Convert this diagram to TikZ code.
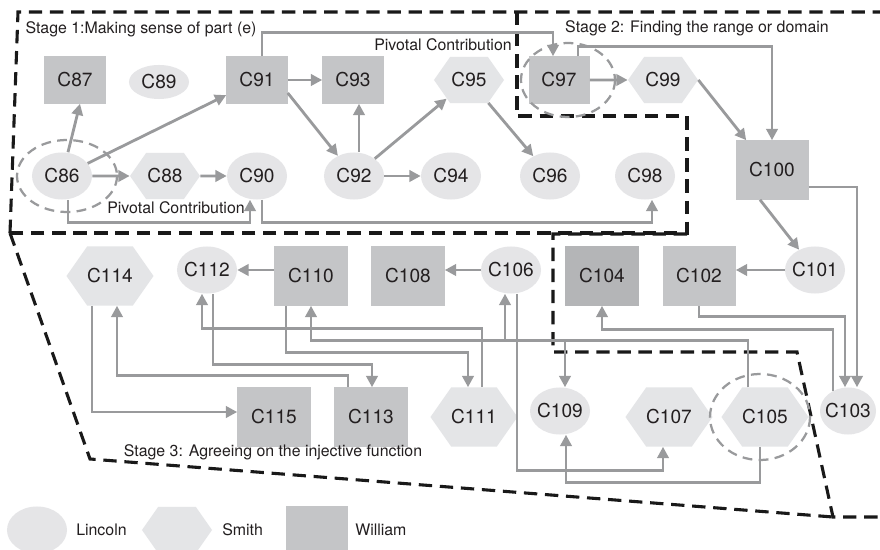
\documentclass[tikz,border=0pt]{standalone}
\usepackage{fontspec}
\setmainfont{TeX Gyre Heros}
\usetikzlibrary{arrows.meta,calc,shapes.geometric,shapes.symbols}

\definecolor{linkgray}{RGB}{153,154,156}
\definecolor{lincolnfill}{RGB}{229,229,231}
\definecolor{smithfill}{RGB}{228,229,231}
\definecolor{williamfill}{RGB}{196,197,199}
\definecolor{darkfill}{RGB}{180,181,183}
\definecolor{inkgray}{RGB}{35,31,32}

\begin{document}
\begin{tikzpicture}[x=0.025cm, y=-0.025cm,
  lincoln/.style={ellipse, fill=lincolnfill, text=inkgray, minimum width=1.5cm, minimum height=1.175cm, inner xsep=-4pt, inner ysep=0pt, font=\fontsize{13.6}{16}\selectfont},
  smith/.style={signal, signal to=east and west, signal pointer angle=110, fill=smithfill, text=inkgray, minimum width=1.75cm, minimum height=1.15cm, inner sep=0pt, font=\fontsize{13.6}{16}\selectfont},
  william/.style={rectangle, fill=williamfill, text=inkgray, minimum width=1.525cm, minimum height=1.175cm, inner sep=0pt, font=\fontsize{13.6}{16}\selectfont},
  bighex/.style={smith, minimum width=2.1cm, minimum height=1.475cm},
  bigbox/.style={william, minimum width=1.825cm, minimum height=1.475cm},
  note/.style={text=inkgray, inner sep=0pt, font=\fontsize{11.3}{13}\selectfont},
  link/.style={draw=linkgray, line width=2pt, -{Triangle[length=8pt, width=8pt]}},
  stageline/.style={draw=black!90, line width=2.2pt, dash pattern=on 9.5pt off 5.5pt},
  focusring/.style={draw=linkgray, line width=1.6pt, dash pattern=on 7pt off 4.5pt}]
\useasboundingbox (0,0) rectangle (880,550);
\fill[white] (0,0) rectangle (880,550);
\clip (0,0) rectangle (880,550);

\draw[stageline] (10,233) -- (18,12) -- (900,12);
\draw[stageline] (517,12) -- (517,116) -- (687,116) -- (687,233) -- (10,233);
\draw[stageline] (687,234) -- (553,234) -- (553,352) -- (797,352) -- (833,517) -- (900,517);
\draw[stageline] (10,233) -- (90,459) -- (833,517);

\node[william] (c87) at (75,80) {C87};
\node[lincoln, minimum height=0.85cm] (c89) at (159,82) {C89};
\node[william] (c91) at (257,80) {C91};
\node[william] (c93) at (353,80) {C93};
\node[smith] (c95) at (469,80) {C95};
\node[william] (c97) at (559,80) {C97};
\node[smith] (c99) at (663,80) {C99};
\node[lincoln] (c86) at (62,176) {C86};
\node[smith] (c88) at (165,176) {C88};
\node[lincoln] (c90) at (257,176) {C90};
\node[lincoln] (c92) at (354,176) {C92};
\node[lincoln] (c94) at (451,176) {C94};
\node[lincoln] (c96) at (550,176) {C96};
\node[lincoln] (c98) at (645,176) {C98};
\node[bigbox] (c100) at (772,170) {C100};

\node[bighex] (c114) at (110,276) {C114};
\node[lincoln] (c112) at (207,270) {C112};
\node[bigbox] (c110) at (311,276) {C110};
\node[bigbox] (c108) at (408,276) {C108};
\node[lincoln] (c106) at (511,270) {C106};
\node[bigbox, fill=darkfill] (c104) at (602,276) {C104};
\node[bigbox] (c102) at (699,276) {C102};
\node[lincoln] (c101) at (815,270) {C101};
\node[bigbox] (c115) at (274,417) {C115};
\node[bigbox] (c113) at (371,417) {C113};
\node[bighex] (c111) at (474,417) {C111};
\node[lincoln] (c109) at (560,411) {C109};
\node[bighex] (c107) at (669,417) {C107};
\node[bighex] (c105) at (765,417) {C105};
\node[lincoln, minimum width=1.4cm] (c103) at (848,411) {C103};

\draw[link] ($(c86.north)+(6,0)$) -- ($(c87.south)+(5,0)$);
\draw[link] (c86) -- (c91);
\draw[link] (c86) -- (c88);
\draw[link] (c88) -- (c90);
\draw[link] ($(c86.south)+(6,0)$) -- ++(0,23) -| ($(c90.south)+(-7,0)$);
\draw[link] ($(c90.south)+(5,0)$) -- ++(0,23) -| ($(c98.south)+(7,0)$);
\draw[link] ($(c91.north)+(5,0)$) -- ++(0,-24) -| ($(c97.north)+(-6,0)$);
\draw[link] (c91) -- (c93);
\draw[link] ($(c91.east)+(0,13)$) -- (c92);
\draw[link] ($(c92.north)+(5,0)$) -- ($(c93.south)+(6,0)$);
\draw[link] (c92) -- (c94);
\draw[link] (c92) -- (c95);
\draw[link] (c95) -- (c96);
\draw[link] (c97) -- (c99);
\draw[link] ($(c97.north)+(19,0)$) -- ++(0,-10) -| (c100.north);
\draw[link] (c99.east) -- ($(c100.north west)+(11,0)$);
\draw[link] ($(c100.east)+(0,17)$) -| ($(c103.north)+(9,0)$);
\draw[link] ($(c100.south)+(-12,0)$) -- (c101);
\draw[link] (c101.west) -- (c101.west -| c102.east);
\draw[link] (c102.south) -- ++(0,11) -| ($(c103.north)+(-3,0)$);
\draw[link] ($(c103.north)+(-15,4)$) -- ++(0,-62) -| (c104.south);
\draw[link] ($(c105.north)+(-17,0)$) -- ++(0,-47) -| (c110.south);
\draw[link] ($(c105.north)+(-17,0)$) -- ++(0,-47) -| ($(c106.south)+(-6,0)$);
\draw[link] ($(c105.north)+(-17,0)$) -- ++(0,-47) -| ($(c109.north)+(5,0)$);
\draw[link] (c106.west) -- (c106.west -| c108.east);
\draw[link] ($(c106.south)+(6,0)$) -- ++(0,177) -| ($(c107.south)+(-6,0)$);
\draw[link] ($(c105.south)+(-5,0)$) -- ++(0,36) -| ($(c109.south)+(6,0)$);
\draw[link] (c110.west |- c112.east) -- (c112.east);
\draw[link] ($(c110.south)+(-25,0)$) -- ++(0,47) -| ($(c111.north)+(-6,0)$);
\draw[link] ($(c111.north)+(8,0)$) -- ++(0,-59) -| ($(c112.south)+(-5,0)$);
\draw[link] ($(c112.south)+(6,0)$) -- ++(0,71) -| ($(c113.north)+(1,0)$);
\draw[link] ($(c113.north)+(-23,0)$) -- ++(0,-12) -| ($(c114.south)+(7,0)$);
\draw[link] ($(c114.south)+(-18,0)$) |- ($(c115.west)+(0,-5)$);

\draw[focusring] (67,176) ellipse [x radius=50, y radius=36];
\draw[focusring] (568,80) ellipse [x radius=47, y radius=37];
\draw[focusring] (760,417) ellipse [x radius=50, y radius=43];

\node[note] (stage1) at (141,29) {Stage 1:Making sense of part (e)};
\node[note] (stage2) at (697,28) {Stage 2: Finding the range or domain};
\node[note] (stage3) at (273,452) {Stage 3: Agreeing on the injective function};
\node[note] (pivot1) at (176,208) {Pivotal Contribution};
\node[note] (pivot2) at (443,45) {Pivotal Contribution};

\node[lincoln] (leglincoln) at (37,530) {};
\node[smith] (legsmith) at (177,530) {};
\node[william] (legwilliam) at (317,530) {};
\node[note, anchor=west] at (76,530) {Lincoln};
\node[note, anchor=west] at (222,530) {Smith};
\node[note, anchor=west] at (355,530) {William};
\end{tikzpicture}
\end{document}
